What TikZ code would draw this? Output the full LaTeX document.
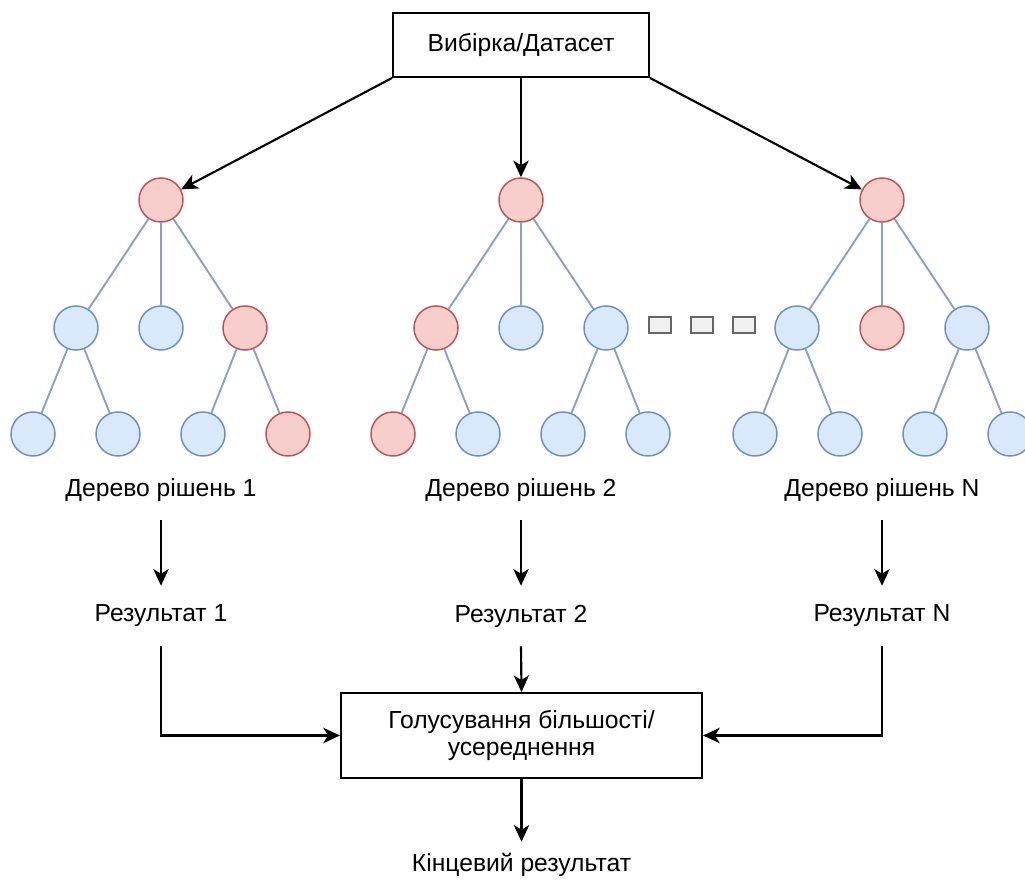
\documentclass[tikz,border=0pt]{standalone}
\usepackage{fontspec}
\setmainfont{Liberation Sans}
\usetikzlibrary{arrows.meta}
\definecolor{redF}{HTML}{F8CECC}
\definecolor{redS}{HTML}{B85450}
\definecolor{blueF}{HTML}{DAE8FC}
\definecolor{blueS}{HTML}{6C8EBF}
\definecolor{edgeC}{HTML}{86A0C8}
\definecolor{sqF}{HTML}{F0F0F0}
\definecolor{sqS}{HTML}{666666}
\tikzset{
  rnode/.style={circle, draw=redS, fill=redF, line width=1.1pt, minimum size=33pt, inner sep=0pt},
  bnode/.style={circle, draw=blueS, fill=blueF, line width=1.1pt, minimum size=33pt, inner sep=0pt},
  tedge/.style={draw=edgeC, line width=1.4pt},
  sq/.style={draw=sqS, fill=sqF, line width=1.4pt, minimum width=16.5pt, minimum height=11.5pt, inner sep=0pt},
  box/.style={draw=black, line width=1.5pt, fill=white, inner sep=0pt, font=\fontsize{18.5}{20}\selectfont, align=center},
  lbl/.style={inner sep=0pt, minimum height=45pt, font=\fontsize{18.5}{22}\selectfont},
  arr/.style={draw=black, line width=1.6pt, -{Stealth[length=12.5pt,width=11.5pt,inset=3.5pt]}},
}
\begin{document}
\begin{tikzpicture}[x=0.75pt,y=-0.75pt]
\clip (0,0) rectangle (1025,881);
\fill[white] (0,0) rectangle (1025,881);
% top box
\node[box, minimum width=192pt, minimum height=48pt] (top) at (521,45) {Вибірка/Датасет};
% tree 1
\node[rnode] (a0) at (161,200) {};
\node[bnode] (a1) at (76,328) {};
\node[bnode] (a2) at (161,328) {};
\node[rnode] (a3) at (245,328) {};
\node[bnode] (a4) at (33,434) {};
\node[bnode] (a5) at (118,434) {};
\node[bnode] (a6) at (203,434) {};
\node[rnode] (a7) at (288,434) {};
% tree 2
\node[rnode] (b0) at (521,200) {};
\node[rnode] (b1) at (436,328) {};
\node[bnode] (b2) at (521,328) {};
\node[bnode] (b3) at (606,328) {};
\node[rnode] (b4) at (393,434) {};
\node[bnode] (b5) at (478,434) {};
\node[bnode] (b6) at (563,434) {};
\node[bnode] (b7) at (648,434) {};
% tree N
\node[rnode] (c0) at (882,200) {};
\node[bnode] (c1) at (797,328) {};
\node[rnode] (c2) at (882,328) {};
\node[bnode] (c3) at (967,328) {};
\node[bnode] (c4) at (755,434) {};
\node[bnode] (c5) at (840,434) {};
\node[bnode] (c6) at (925,434) {};
\node[bnode] (c7) at (1010,434) {};
% tree edges
\foreach \t in {a,b,c}{
  \draw[tedge] (\t0) -- (\t1);
  \draw[tedge] (\t0) -- (\t2);
  \draw[tedge] (\t0) -- (\t3);
}
\draw[tedge] (a1) -- (a4); \draw[tedge] (a1) -- (a5);
\draw[tedge] (a3) -- (a6); \draw[tedge] (a3) -- (a7);
\draw[tedge] (b1) -- (b4); \draw[tedge] (b1) -- (b5);
\draw[tedge] (b3) -- (b6); \draw[tedge] (b3) -- (b7);
\draw[tedge] (c1) -- (c4); \draw[tedge] (c1) -- (c5);
\draw[tedge] (c3) -- (c6); \draw[tedge] (c3) -- (c7);
% dots
\node[sq] (s1) at (660,325) {};
\node[sq] (s2) at (702,325) {};
\node[sq] (s3) at (744,325) {};
% arrows from top
\draw[arr] (top.south west) -- (a0);
\draw[arr] (top.south) -- (b0);
\draw[arr] (top.south east) -- (c0);
% labels
\node[lbl] (t1) at (161,490) {Дерево рішень 1};
\node[lbl] (t2) at (521,490) {Дерево рішень 2};
\node[lbl] (t3) at (882,490) {Дерево рішень N};
\node[lbl] (r1) at (161,616) {Результат 1};
\node[lbl] (r2) at (521,616) {Результат 2};
\node[lbl] (r3) at (882,616) {Результат N};
\draw[arr] (t1.south) -- (r1.north);
\draw[arr] (t2.south) -- (r2.north);
\draw[arr] (t3.south) -- (r3.north);
% voting box
\node[box, minimum width=270.75pt, minimum height=63.75pt] (vote) at (521.5,735.5) {Голусування більшості/\\усереднення};
\draw[arr] (r1.south) |- (vote.west);
\draw[arr] (r2.south) -- (vote.north);
\draw[arr] (r3.south) |- (vote.east);
\node[lbl, minimum height=34.5pt] (fin) at (521.5,865) {Кінцевий результат};
\draw[arr] (vote.south) -- (fin.north);
\end{tikzpicture}
\end{document}
